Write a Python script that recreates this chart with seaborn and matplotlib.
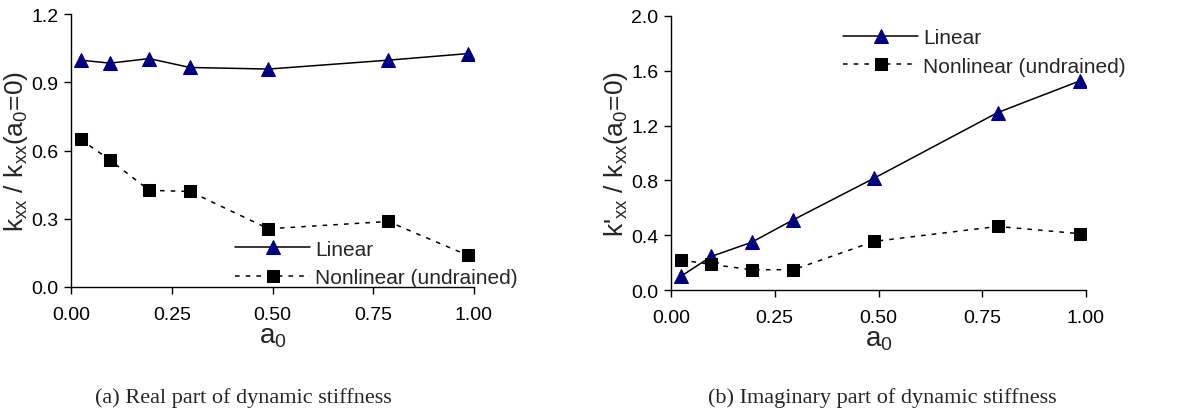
import numpy as np
import pandas as pd
import matplotlib
matplotlib.use("Agg")
import matplotlib.pyplot as plt
import seaborn as sns

# ---- data ----
a0_lin = [0.024, 0.097, 0.194, 0.295, 0.490, 0.787, 0.985]
real_linear = [0.997, 0.984, 1.004, 0.965, 0.958, 0.997, 1.026]
a0_non = [0.024, 0.097, 0.194, 0.295, 0.490, 0.787, 0.985]
real_nonlinear = [0.649, 0.558, 0.425, 0.420, 0.256, 0.288, 0.139]

imag_linear = [0.100, 0.245, 0.348, 0.513, 0.817, 1.295, 1.526]
imag_nonlinear = [0.219, 0.187, 0.148, 0.148, 0.355, 0.464, 0.411]

x_ticks = [0.0, 0.25, 0.5, 0.75, 1.0]
y_ticks_a = [0.0, 0.3, 0.6, 0.9, 1.2]
y_ticks_b = [0.0, 0.4, 0.8, 1.2, 1.6, 2.0]

series_labels = ["Linear", "Nonlinear (undrained)"]
captions = ["(a) Real part of dynamic stiffness", "(b) Imaginary part of dynamic stiffness"]

sns.set_theme(style="ticks")
plt.rcParams["font.family"] = ["Liberation Sans", "DejaVu Sans"]
plt.rcParams["mathtext.fontset"] = "custom"
plt.rcParams["mathtext.rm"] = "Liberation Sans"
plt.rcParams["mathtext.it"] = "Liberation Sans"

fig = plt.figure(figsize=(11.85, 4.14), dpi=100)
W, H = 1185, 414
ax_a = fig.add_axes([71 / W, 1 - 288 / H, (474 - 71) / W, (288 - 15) / H])
ax_b = fig.add_axes([671 / W, 1 - 291 / H, (1086 - 671) / W, (291 - 17) / H])


def draw(ax, y_lin, y_non, yticks, ylabel, legend_loc, legend_anchor, ax_w_px):
    df_l = pd.DataFrame({"a0": a0_lin, "v": y_lin})
    df_n = pd.DataFrame({"a0": a0_non, "v": y_non})
    sns.lineplot(data=df_l, x="a0", y="v", ax=ax, color="black", lw=1.1,
                 marker="^", markersize=10, markerfacecolor="#000080",
                 markeredgecolor="#000080", label=series_labels[0])
    sns.lineplot(data=df_n, x="a0", y="v", ax=ax, color="black", lw=1.1,
                 linestyle=(0, (3, 4)), marker="s", markersize=8,
                 markerfacecolor="black", markeredgecolor="black",
                 label=series_labels[1])
    ax.set_xlim(0, 1.0)
    ax.set_ylim(yticks[0], yticks[-1])
    ax.set_xticks(x_ticks)
    ax.set_xticklabels([f"{t:.2f}" for t in x_ticks])
    ax.set_yticks(yticks)
    ax.set_yticklabels([f"{t:.1f}" for t in yticks])
    for s in ["top", "right"]:
        ax.spines[s].set_visible(False)
    for s in ["left", "bottom"]:
        ax.spines[s].set_color("black")
        ax.spines[s].set_linewidth(1.0)
    ax.tick_params(axis="both", direction="out", length=5, width=1.0,
                   labelsize=14, colors="black", pad=4)
    ax.tick_params(axis="x", pad=9)
    ax.set_xlabel(r"a$\mathregular{_0}$", fontsize=20, labelpad=0)
    ax.set_ylabel(ylabel, fontsize=19, va="center")
    ax.yaxis.set_label_coords(-55 / ax_w_px, 0.5)
    leg = ax.legend(loc=legend_loc, bbox_to_anchor=legend_anchor, frameon=False,
                    fontsize=15, handlelength=3.6, handletextpad=0.25,
                    labelspacing=0.45, borderpad=0, borderaxespad=0)
    return leg


draw(ax_a, real_linear, real_nonlinear, y_ticks_a,
     r"k$\mathregular{_{xx}}$ / k$\mathregular{_{xx}}$(a$\mathregular{_0}$=0)",
     "lower left", ((235 - 71) / 403, 0.0), 403)
draw(ax_b, imag_linear, imag_nonlinear, y_ticks_b,
     r"k'$\mathregular{_{xx}}$ / k$\mathregular{_{xx}}$(a$\mathregular{_0}$=0)",
     "upper left", ((843 - 671) / 415, 0.955), 415)

fig.text(243 / W, 1 - 398 / H, captions[0], ha="center", va="center",
         fontsize=16, family=["Liberation Serif", "DejaVu Serif"])
fig.text(882 / W, 1 - 398 / H, captions[1], ha="center", va="center",
         fontsize=16, family=["Liberation Serif", "DejaVu Serif"])

fig.savefig("out.png", dpi=100, facecolor="white")
